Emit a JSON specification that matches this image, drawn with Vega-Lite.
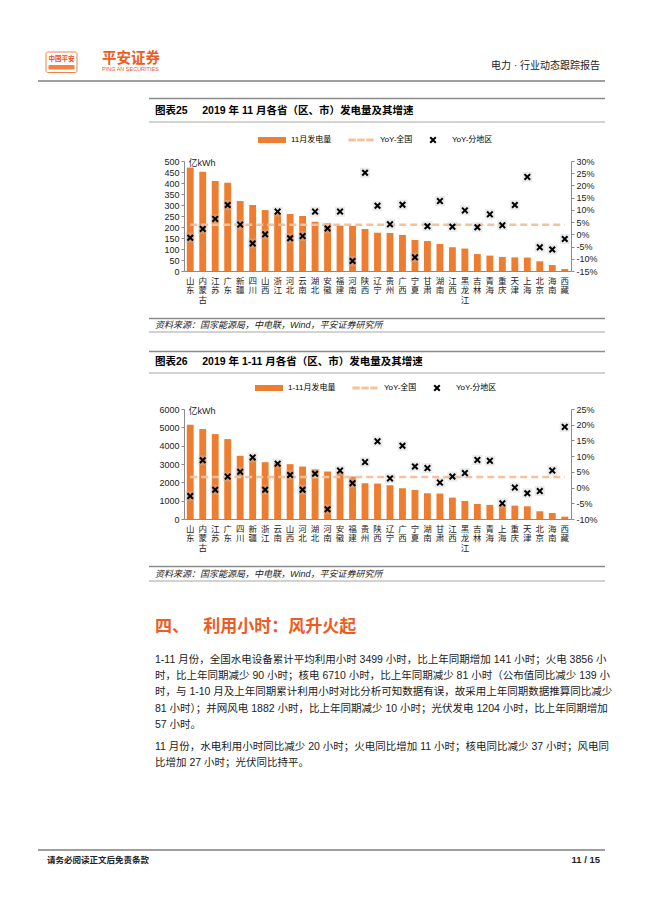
{
  "$schema": "https://vega.github.io/schema/vega-lite/v6.json",
  "padding": 0,
  "autosize": {"type": "pad"},
  "bounds": "flush",
  "spacing": 0,
  "resolve": {"scale": {"color": "independent", "shape": "independent"}, "legend": {"color": "independent", "shape": "independent"}},
  "config": {
    "view": {"stroke": null},
    "font": "Liberation Sans, Noto Sans CJK SC, sans-serif",
    "axis": {"domainColor": "#8c8c8c", "tickColor": "#8c8c8c", "labelColor": "#222222", "labelFontSize": 9, "tickSize": 3, "labelPadding": 2, "grid": false, "labelOverlap": false, "labelFont": "Liberation Sans, Noto Sans CJK SC, sans-serif", "titleFont": "Liberation Sans, Noto Sans CJK SC, sans-serif"},
    "legend": {"labelFont": "Liberation Sans, Noto Sans CJK SC, sans-serif"}
  },
  "vconcat": [
    {
      "width": 387, "height": 161,
      "layer": [
        {"data": {"values": [{}]}, "mark": {"type": "rect", "fill": "white"}, "encoding": {"x": {"value": -184}, "x2": {"value": 466}, "y": {"value": 0}, "y2": {"value": 1}}},
        {"data": {"values": [{}]}, "mark": {"type": "rect", "fill": "white", "stroke": "#F0824C", "strokeWidth": 1, "cornerRadius": 2}, "encoding": {"x": {"value": -138}, "x2": {"value": -107}, "y": {"value": 52}, "y2": {"value": 72.5}}},
        {"data": {"values": [{}]}, "mark": {"type": "rect", "fill": "#F3833F", "cornerRadius": 1}, "encoding": {"x": {"value": -135.5}, "x2": {"value": -109.5}, "y": {"value": 65}, "y2": {"value": 69.5}}},
        {"data": {"values": [{"text": "中国平安"}]}, "mark": {"type": "text", "align": "center", "baseline": "middle", "fontSize": 6.5, "fontWeight": "bold", "color": "#E94E1B"}, "encoding": {"text": {"field": "text"}, "x": {"value": -122.5}, "y": {"value": 58.5}}},
        {"data": {"values": [{"text": "平安证券"}]}, "mark": {"type": "text", "align": "left", "baseline": "middle", "fontSize": 14.5, "fontWeight": "bold", "color": "#EE5B22"}, "encoding": {"text": {"field": "text"}, "x": {"value": -82}, "y": {"value": 59}}},
        {"data": {"values": [{"text": "PING AN SECURITIES"}]}, "mark": {"type": "text", "align": "left", "baseline": "middle", "fontSize": 5.5, "color": "#EE5B22"}, "encoding": {"text": {"field": "text"}, "x": {"value": -82}, "y": {"value": 68.8}}},
        {"data": {"values": [{"text": "电力 · 行业动态跟踪报告"}]}, "mark": {"type": "text", "align": "right", "baseline": "middle", "fontSize": 10, "color": "#222222"}, "encoding": {"text": {"field": "text"}, "x": {"value": 416}, "y": {"value": 66}}},
        {"data": {"values": [{}]}, "mark": {"type": "rule", "color": "#7f7f7f", "strokeWidth": 1.5}, "encoding": {"x": {"value": -146}, "x2": {"value": 421}, "y": {"value": 81}}},
        {"data": {"values": [{}]}, "mark": {"type": "rule", "color": "#8c8c8c", "strokeWidth": 1.5}, "encoding": {"x": {"value": -35}, "x2": {"value": 421}, "y": {"value": 98.5}}},
        {"data": {"values": [{}]}, "mark": {"type": "rule", "color": "#a6a6a6", "strokeWidth": 1}, "encoding": {"x": {"value": -35}, "x2": {"value": 421}, "y": {"value": 122}}},
        {"data": {"values": [{"text": "图表25\u00a0\u00a0\u00a0\u00a0 2019 年 11 月各省（区、市）发电量及其增速"}]}, "mark": {"type": "text", "align": "left", "baseline": "middle", "fontSize": 10.5, "fontWeight": "bold", "color": "#000000"}, "encoding": {"text": {"field": "text"}, "x": {"value": -29}, "y": {"value": 110.5}}}
      ]
    },
    {
      "width": 387, "height": 110,
      "data": {"values": [
        {"province": "山东", "gen": 470, "yoy": -0.014, "national": 0.039},
        {"province": "内蒙古", "gen": 451, "yoy": 0.022, "national": 0.039},
        {"province": "江苏", "gen": 409, "yoy": 0.063, "national": 0.039},
        {"province": "广东", "gen": 401, "yoy": 0.12, "national": 0.039},
        {"province": "新疆", "gen": 318, "yoy": 0.04, "national": 0.039},
        {"province": "四川", "gen": 300, "yoy": -0.037, "national": 0.039},
        {"province": "山西", "gen": 277, "yoy": 0.0, "national": 0.039},
        {"province": "浙江", "gen": 262, "yoy": 0.093, "national": 0.039},
        {"province": "河北", "gen": 259, "yoy": -0.016, "national": 0.039},
        {"province": "云南", "gen": 250, "yoy": -0.007, "national": 0.039},
        {"province": "湖北", "gen": 224, "yoy": 0.093, "national": 0.039},
        {"province": "安徽", "gen": 217, "yoy": 0.024, "national": 0.039},
        {"province": "福建", "gen": 206, "yoy": 0.093, "national": 0.039},
        {"province": "河南", "gen": 205, "yoy": -0.109, "national": 0.039},
        {"province": "陕西", "gen": 191, "yoy": 0.252, "national": 0.039},
        {"province": "辽宁", "gen": 174, "yoy": 0.117, "national": 0.039},
        {"province": "贵州", "gen": 173, "yoy": 0.041, "national": 0.039},
        {"province": "广西", "gen": 164, "yoy": 0.121, "national": 0.039},
        {"province": "宁夏", "gen": 141, "yoy": -0.094, "national": 0.039},
        {"province": "甘肃", "gen": 136, "yoy": 0.033, "national": 0.039},
        {"province": "湖南", "gen": 123, "yoy": 0.136, "national": 0.039},
        {"province": "江西", "gen": 108, "yoy": 0.031, "national": 0.039},
        {"province": "黑龙江", "gen": 102, "yoy": 0.098, "national": 0.039},
        {"province": "吉林", "gen": 77, "yoy": 0.029, "national": 0.039},
        {"province": "青海", "gen": 70, "yoy": 0.082, "national": 0.039},
        {"province": "重庆", "gen": 64, "yoy": 0.037, "national": 0.039},
        {"province": "天津", "gen": 62, "yoy": 0.12, "national": 0.039},
        {"province": "上海", "gen": 61, "yoy": 0.235, "national": 0.039},
        {"province": "北京", "gen": 44, "yoy": -0.053, "national": 0.039},
        {"province": "海南", "gen": 27, "yoy": -0.062, "national": 0.039},
        {"province": "西藏", "gen": 9, "yoy": -0.019, "national": 0.039}
      ]},
      "layer": [
        {
          "mark": {"type": "bar", "color": "#ED7D31"},
          "encoding": {
            "x": {"field": "province", "type": "nominal", "sort": null, "scale": {"paddingInner": 0.45, "paddingOuter": 0.225},
                  "axis": {"title": null, "labelAngle": 0, "ticks": false, "labelExpr": "split(datum.value, '')", "labelLineHeight": 9.5, "labelFontSize": 8.5, "labelBaseline": "top", "labelPadding": 5, "labelOverlap": false}},
            "y": {"field": "gen", "type": "quantitative", "scale": {"domain": [0, 500]},
                  "axis": {"orient": "left", "values": [0, 50, 100, 150, 200, 250, 300, 350, 400, 450, 500], "format": "d", "title": "亿kWh", "titleAngle": 0, "titleAlign": "left", "titleBaseline": "middle", "titleX": 4, "titleY": 1, "titleFontSize": 9, "titleFontWeight": "normal", "titleColor": "#222222"}}
          }
        },
        {
          "layer": [
            {
              "mark": {"type": "line", "color": "#F7C19B", "strokeWidth": 2.5, "strokeDash": [7, 4]},
              "encoding": {
                "x": {"field": "province", "type": "nominal", "sort": null},
                "y": {"field": "national", "type": "quantitative", "scale": {"domain": [-0.15, 0.3]},
                      "axis": {"orient": "right", "values": [-0.15, -0.1, -0.05, 0, 0.05, 0.1, 0.15, 0.2, 0.25, 0.3], "labelExpr": "round(datum.value*100) + '%'", "labelOverlap": false, "title": null}}
              }
            },
            {
              "mark": {"type": "point", "shape": "square", "filled": true, "color": "#c4c4c4", "opacity": 0.35, "size": 100},
              "encoding": {
                "x": {"field": "province", "type": "nominal", "sort": null},
                "y": {"field": "yoy", "type": "quantitative", "scale": {"domain": [-0.15, 0.3]},
                      "axis": {"orient": "right", "values": [-0.15, -0.1, -0.05, 0, 0.05, 0.1, 0.15, 0.2, 0.25, 0.3], "labelExpr": "round(datum.value*100) + '%'", "labelOverlap": false, "title": null}}
              }
            },
            {
              "mark": {"type": "point", "filled": true, "size": 49, "opacity": 1},
              "encoding": {
                "x": {"field": "province", "type": "nominal", "sort": null},
                "y": {"field": "yoy", "type": "quantitative", "scale": {"domain": [-0.15, 0.3]},
                      "axis": {"orient": "right", "values": [-0.15, -0.1, -0.05, 0, 0.05, 0.1, 0.15, 0.2, 0.25, 0.3], "labelExpr": "round(datum.value*100) + '%'", "labelOverlap": false, "title": null}},
                "color": {"datum": "YoY-分地区", "type": "nominal",
                          "scale": {"domain": ["11月发电量", "YoY-全国", "YoY-分地区"], "range": ["#ED7D31", "#F7C19B", "#000000"]},
                          "legend": {"title": null, "orient": "none", "legendX": 84, "legendY": -25, "direction": "horizontal", "labelFontSize": 8, "symbolSize": 49, "labelOffset": 15, "columnPadding": 16, "symbolStrokeWidth": 0}},
                "shape": {"datum": "YoY-分地区", "type": "nominal",
                          "scale": {"domain": ["11月发电量", "YoY-全国", "YoY-分地区"], "range": ["M-4,-0.85H4V0.85H-4Z", "M-3.6,-0.4H-1.5V0.4H-3.6Z M-1.05,-0.4H1.05V0.4H-1.05Z M1.5,-0.4H3.6V0.4H1.5Z", "M-0.6,-1L0,-0.4L0.6,-1L1,-0.6L0.4,0L1,0.6L0.6,1L0,0.4L-0.6,1L-1,0.6L-0.4,0L-1,-0.6Z"]},
                          "legend": {"title": null, "orient": "none", "legendX": 84, "legendY": -25, "direction": "horizontal", "labelFontSize": 8, "symbolSize": 49, "labelOffset": 15, "columnPadding": 16, "symbolStrokeWidth": 0}}
              }
            }
          ]
        }
      ],
      "resolve": {"scale": {"y": "independent"}}
    },
    {
      "width": 387, "height": 138,
      "layer": [
        {"data": {"values": [{}]}, "mark": {"type": "rule", "color": "#8c8c8c", "strokeWidth": 1.5}, "encoding": {"x": {"value": -35}, "x2": {"value": 421}, "y": {"value": 47.5}}},
        {"data": {"values": [{}]}, "mark": {"type": "rule", "color": "#a6a6a6", "strokeWidth": 1}, "encoding": {"x": {"value": -35}, "x2": {"value": 421}, "y": {"value": 61}}},
        {"data": {"values": [{"text": "资料来源：国家能源局，中电联，Wind，平安证券研究所"}]}, "mark": {"type": "text", "align": "left", "baseline": "middle", "fontSize": 9, "fontStyle": "italic", "color": "#222222"}, "encoding": {"text": {"field": "text"}, "x": {"value": -29}, "y": {"value": 54.3}}},
        {"data": {"values": [{}]}, "mark": {"type": "rule", "color": "#8c8c8c", "strokeWidth": 1.5}, "encoding": {"x": {"value": -35}, "x2": {"value": 421}, "y": {"value": 80.5}}},
        {"data": {"values": [{}]}, "mark": {"type": "rule", "color": "#a6a6a6", "strokeWidth": 1}, "encoding": {"x": {"value": -35}, "x2": {"value": 421}, "y": {"value": 102}}},
        {"data": {"values": [{"text": "图表26\u00a0\u00a0\u00a0\u00a0 2019 年 1-11 月各省（区、市）发电量及其增速"}]}, "mark": {"type": "text", "align": "left", "baseline": "middle", "fontSize": 10.5, "fontWeight": "bold", "color": "#000000"}, "encoding": {"text": {"field": "text"}, "x": {"value": -29}, "y": {"value": 91}}}
      ]
    },
    {
      "width": 387, "height": 110,
      "data": {"values": [
        {"province": "山东", "gen": 5143, "yoy": -0.027, "national": 0.034},
        {"province": "内蒙古", "gen": 4906, "yoy": 0.087, "national": 0.034},
        {"province": "江苏", "gen": 4632, "yoy": -0.007, "national": 0.034},
        {"province": "广东", "gen": 4359, "yoy": 0.035, "national": 0.034},
        {"province": "四川", "gen": 3447, "yoy": 0.05, "national": 0.034},
        {"province": "新疆", "gen": 3350, "yoy": 0.096, "national": 0.034},
        {"province": "浙江", "gen": 3100, "yoy": -0.007, "national": 0.034},
        {"province": "云南", "gen": 3046, "yoy": 0.076, "national": 0.034},
        {"province": "山西", "gen": 2991, "yoy": 0.04, "national": 0.034},
        {"province": "河北", "gen": 2863, "yoy": -0.007, "national": 0.034},
        {"province": "湖北", "gen": 2717, "yoy": 0.044, "national": 0.034},
        {"province": "河南", "gen": 2590, "yoy": -0.069, "national": 0.034},
        {"province": "安徽", "gen": 2570, "yoy": 0.054, "national": 0.034},
        {"province": "福建", "gen": 2316, "yoy": 0.014, "national": 0.034},
        {"province": "贵州", "gen": 1951, "yoy": 0.081, "national": 0.034},
        {"province": "陕西", "gen": 1933, "yoy": 0.147, "national": 0.034},
        {"province": "辽宁", "gen": 1842, "yoy": 0.029, "national": 0.034},
        {"province": "广西", "gen": 1678, "yoy": 0.133, "national": 0.034},
        {"province": "宁夏", "gen": 1587, "yoy": 0.067, "national": 0.034},
        {"province": "湖南", "gen": 1404, "yoy": 0.062, "national": 0.034},
        {"province": "甘肃", "gen": 1386, "yoy": 0.016, "national": 0.034},
        {"province": "江西", "gen": 1167, "yoy": 0.035, "national": 0.034},
        {"province": "黑龙江", "gen": 985, "yoy": 0.046, "national": 0.034},
        {"province": "吉林", "gen": 821, "yoy": 0.088, "national": 0.034},
        {"province": "青海", "gen": 770, "yoy": 0.085, "national": 0.034},
        {"province": "上海", "gen": 755, "yoy": -0.05, "national": 0.034},
        {"province": "重庆", "gen": 730, "yoy": 0.0, "national": 0.034},
        {"province": "天津", "gen": 693, "yoy": -0.018, "national": 0.034},
        {"province": "北京", "gen": 420, "yoy": -0.011, "national": 0.034},
        {"province": "海南", "gen": 328, "yoy": 0.054, "national": 0.034},
        {"province": "西藏", "gen": 128, "yoy": 0.193, "national": 0.034}
      ]},
      "layer": [
        {
          "mark": {"type": "bar", "color": "#ED7D31"},
          "encoding": {
            "x": {"field": "province", "type": "nominal", "sort": null, "scale": {"paddingInner": 0.45, "paddingOuter": 0.225},
                  "axis": {"title": null, "labelAngle": 0, "ticks": false, "labelExpr": "split(datum.value, '')", "labelLineHeight": 9.5, "labelFontSize": 8.5, "labelBaseline": "top", "labelPadding": 5, "labelOverlap": false}},
            "y": {"field": "gen", "type": "quantitative", "scale": {"domain": [0, 6000]},
                  "axis": {"orient": "left", "values": [0, 1000, 2000, 3000, 4000, 5000, 6000], "format": "d", "title": "亿kWh", "titleAngle": 0, "titleAlign": "left", "titleBaseline": "middle", "titleX": 4, "titleY": 1, "titleFontSize": 9, "titleFontWeight": "normal", "titleColor": "#222222"}}
          }
        },
        {
          "layer": [
            {
              "mark": {"type": "line", "color": "#F7C19B", "strokeWidth": 2.5, "strokeDash": [7, 4]},
              "encoding": {
                "x": {"field": "province", "type": "nominal", "sort": null},
                "y": {"field": "national", "type": "quantitative", "scale": {"domain": [-0.1, 0.25]},
                      "axis": {"orient": "right", "values": [-0.1, -0.05, 0, 0.05, 0.1, 0.15, 0.2, 0.25], "labelExpr": "round(datum.value*100) + '%'", "labelOverlap": false, "title": null}}
              }
            },
            {
              "mark": {"type": "point", "shape": "square", "filled": true, "color": "#c4c4c4", "opacity": 0.35, "size": 100},
              "encoding": {
                "x": {"field": "province", "type": "nominal", "sort": null},
                "y": {"field": "yoy", "type": "quantitative", "scale": {"domain": [-0.1, 0.25]},
                      "axis": {"orient": "right", "values": [-0.1, -0.05, 0, 0.05, 0.1, 0.15, 0.2, 0.25], "labelExpr": "round(datum.value*100) + '%'", "labelOverlap": false, "title": null}}
              }
            },
            {
              "mark": {"type": "point", "filled": true, "size": 49, "opacity": 1},
              "encoding": {
                "x": {"field": "province", "type": "nominal", "sort": null},
                "y": {"field": "yoy", "type": "quantitative", "scale": {"domain": [-0.1, 0.25]},
                      "axis": {"orient": "right", "values": [-0.1, -0.05, 0, 0.05, 0.1, 0.15, 0.2, 0.25], "labelExpr": "round(datum.value*100) + '%'", "labelOverlap": false, "title": null}},
                "color": {"datum": "YoY-分地区", "type": "nominal",
                          "scale": {"domain": ["1-11月发电量", "YoY-全国", "YoY-分地区"], "range": ["#ED7D31", "#F7C19B", "#000000"]},
                          "legend": {"title": null, "orient": "none", "legendX": 81, "legendY": -25, "direction": "horizontal", "labelFontSize": 8, "symbolSize": 49, "labelOffset": 15, "columnPadding": 16, "symbolStrokeWidth": 0}},
                "shape": {"datum": "YoY-分地区", "type": "nominal",
                          "scale": {"domain": ["1-11月发电量", "YoY-全国", "YoY-分地区"], "range": ["M-4,-0.85H4V0.85H-4Z", "M-3.6,-0.4H-1.5V0.4H-3.6Z M-1.05,-0.4H1.05V0.4H-1.05Z M1.5,-0.4H3.6V0.4H1.5Z", "M-0.6,-1L0,-0.4L0.6,-1L1,-0.6L0.4,0L1,0.6L0.6,1L0,0.4L-0.6,1L-1,0.6L-0.4,0L-1,-0.6Z"]},
                          "legend": {"title": null, "orient": "none", "legendX": 81, "legendY": -25, "direction": "horizontal", "labelFontSize": 8, "symbolSize": 49, "labelOffset": 15, "columnPadding": 16, "symbolStrokeWidth": 0}}
              }
            }
          ]
        }
      ],
      "resolve": {"scale": {"y": "independent"}}
    },
    {
      "width": 387, "height": 400,
      "layer": [
        {"data": {"values": [{}]}, "mark": {"type": "rule", "color": "#8c8c8c", "strokeWidth": 1.5}, "encoding": {"x": {"value": -35}, "x2": {"value": 421}, "y": {"value": 47.5}}},
        {"data": {"values": [{}]}, "mark": {"type": "rule", "color": "#a6a6a6", "strokeWidth": 1}, "encoding": {"x": {"value": -35}, "x2": {"value": 421}, "y": {"value": 62}}},
        {"data": {"values": [{"text": "资料来源：国家能源局，中电联，Wind，平安证券研究所"}]}, "mark": {"type": "text", "align": "left", "baseline": "middle", "fontSize": 9, "fontStyle": "italic", "color": "#222222"}, "encoding": {"text": {"field": "text"}, "x": {"value": -29}, "y": {"value": 54.5}}},
        {"data": {"values": [{"text": "四、\u00a0\u00a0\u00a0利用小时：风升火起"}]}, "mark": {"type": "text", "align": "left", "baseline": "middle", "fontSize": 17, "fontWeight": "bold", "color": "#EE5B22"}, "encoding": {"text": {"field": "text"}, "x": {"value": -29}, "y": {"value": 108}}},
        {"data": {"values": [{"text": "1-11 月份，全国水电设备累计平均利用小时 3499 小时，比上年同期增加 141 小时；火电 3856 小\n时，比上年同期减少 90 小时；核电 6710 小时，比上年同期减少 81 小时（公布值同比减少 139 小\n时，与 1-10 月及上年同期累计利用小时对比分析可知数据有误，故采用上年同期数据推算同比减少\n81 小时）；并网风电 1882 小时，比上年同期减少 10 小时；光伏发电 1204 小时，比上年同期增加\n57 小时。"}]}, "mark": {"type": "text", "align": "left", "baseline": "top", "fontSize": 10.5, "lineBreak": "\n", "lineHeight": 16.3, "color": "#1a1a1a"}, "encoding": {"text": {"field": "text"}, "x": {"value": -29}, "y": {"value": 135.7}}},
        {"data": {"values": [{"text": "11 月份，水电利用小时同比减少 20 小时；火电同比增加 11 小时；核电同比减少 37 小时；风电同\n比增加 27 小时；光伏同比持平。"}]}, "mark": {"type": "text", "align": "left", "baseline": "top", "fontSize": 10.5, "lineBreak": "\n", "lineHeight": 16.3, "color": "#1a1a1a"}, "encoding": {"text": {"field": "text"}, "x": {"value": -29}, "y": {"value": 223.2}}},
        {"data": {"values": [{}]}, "mark": {"type": "rule", "color": "#7f7f7f", "strokeWidth": 1.5}, "encoding": {"x": {"value": -146}, "x2": {"value": 421}, "y": {"value": 331}}},
        {"data": {"values": [{"text": "请务必阅读正文后免责条款"}]}, "mark": {"type": "text", "align": "left", "baseline": "middle", "fontSize": 8.5, "fontWeight": "bold", "color": "#222222"}, "encoding": {"text": {"field": "text"}, "x": {"value": -137}, "y": {"value": 341}}},
        {"data": {"values": [{"text": "11 / 15"}]}, "mark": {"type": "text", "align": "right", "baseline": "middle", "fontSize": 9.5, "fontWeight": "bold", "color": "#222222"}, "encoding": {"text": {"field": "text"}, "x": {"value": 416}, "y": {"value": 341}}}
      ]
    }
  ]
}
